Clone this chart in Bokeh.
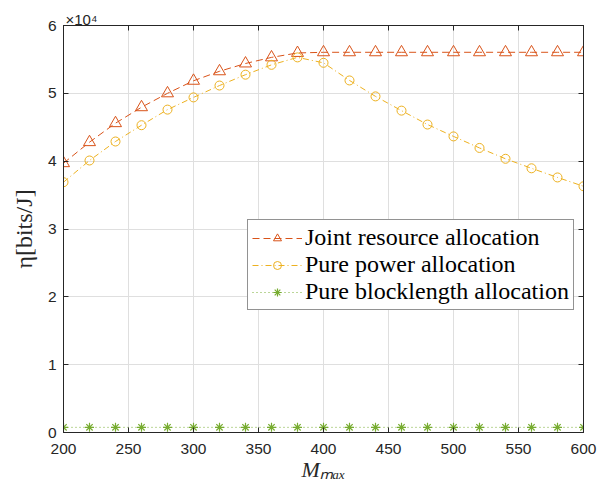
from bokeh.plotting import figure
from bokeh.models import (Legend, LegendItem, LinearAxis, FixedTicker, Range1d, Title,
                          CustomLabelingPolicy)
from bokeh.embed import file_html
from bokeh.resources import INLINE

# ---- data ----
m_max = [200, 220, 240, 260, 280, 300, 320, 340, 360, 380, 400,
         420, 440, 460, 480, 500, 520, 540, 560, 580, 600]
joint = [39700, 42800, 45600, 47950, 50000, 51850, 53250, 54400, 55300, 55950, 56050,
         56050, 56050, 56050, 56050, 56050, 56050, 56050, 56050, 56050, 56050]
power = [36900, 40100, 42900, 45300, 47600, 49400, 51150, 52750, 54200, 55300, 54500,
         51900, 49550, 47450, 45400, 43650, 41950, 40350, 38950, 37600, 36300]
block = [760, 760, 760, 760, 760, 760, 760, 760, 760, 760, 760,
         760, 760, 760, 760, 760, 760, 760, 760, 760, 760]
x_ticks = [200, 250, 300, 350, 400, 450, 500, 550, 600]
y_ticks = [0, 10000, 20000, 30000, 40000, 50000, 60000]
y_tick_labels = ["0", "1", "2", "3", "4", "5", "6"]
series_names = ["Joint resource allocation", "Pure power allocation",
                "Pure blocklength allocation"]
x_label = "Mₘₐₓ"
y_label = "η[bits/J]"
y_scale_label = "×10⁴"

C_JOINT = "#D95319"
C_POWER = "#EDB120"
C_BLOCK = "#77AC30"
AX = "#262626"

W, H = 607, 489
L, R, T, B = 63, 583, 25, 432

p = figure(width=W, height=H, x_range=Range1d(200, 600), y_range=Range1d(0, 60000),
           output_backend="svg", toolbar_location=None,
           min_border_left=L, min_border_right=W - R, min_border_top=T,
           min_border_bottom=H - B)
p.background_fill_color = "white"
p.border_fill_color = "white"
p.outline_line_color = AX
p.outline_line_width = 1

hide_all = CustomLabelingPolicy(
    code="const a = Array.from(indices); for (const i of a) { indices.unset(i) }; return indices")
p.add_layout(LinearAxis(major_label_policy=hide_all), "right")
p.add_layout(LinearAxis(major_label_policy=hide_all), "above")

for ax in p.xaxis:
    ax.ticker = FixedTicker(ticks=x_ticks)
for ax in p.yaxis:
    ax.ticker = FixedTicker(ticks=y_ticks)
    ax.major_label_overrides = {t: s for t, s in zip(y_ticks, y_tick_labels)}

for ax in p.axis:
    ax.axis_line_color = AX
    ax.axis_line_width = 1
    ax.major_tick_in = 5
    ax.major_tick_out = 0
    ax.minor_tick_in = 0
    ax.minor_tick_out = 0
    ax.major_tick_line_color = AX
    ax.major_label_text_font = "Liberation Sans"
    ax.major_label_text_font_size = "15.5px"
    ax.major_label_text_color = AX

for ax in (p.right[0], p.above[0]):
    ax.major_label_text_font_size = "1px"
    ax.major_label_standoff = 0

xa = p.below[0]
xa.major_label_standoff = 11
xa.axis_label = x_label
xa.axis_label_text_font = "Liberation Serif"
xa.axis_label_text_font_style = "italic"
xa.axis_label_text_font_size = "22px"
xa.axis_label_text_color = AX
xa.axis_label_standoff = 0

ya = p.left[0]
ya.major_label_standoff = 7
ya.axis_label = y_label
ya.axis_label_text_font = "Liberation Serif"
ya.axis_label_text_font_style = "normal"
ya.axis_label_text_font_size = "24px"
ya.axis_label_text_color = AX
ya.axis_label_standoff = 8

p.xgrid.ticker = FixedTicker(ticks=x_ticks)
p.ygrid.ticker = FixedTicker(ticks=y_ticks)
p.grid.grid_line_color = "#DFDFDF"
p.grid.grid_line_width = 1

scale_title = Title(text=y_scale_label, align="left", offset=2, standoff=-12,
                    text_font="Liberation Sans", text_font_size="15px",
                    text_font_style="normal", text_color=AX)
p.add_layout(scale_title, "above")

# ---- series ----
l1 = p.line(m_max, joint, line_color=C_JOINT, line_width=1, line_dash="7 4")
s1 = p.scatter(m_max, joint, marker="triangle", size=12, line_color=C_JOINT,
               fill_color=None, line_width=1)
l2 = p.line(m_max, power, line_color=C_POWER, line_width=1, line_dash="6 3 1 3")
s2 = p.scatter(m_max, power, marker="circle", size=9, line_color=C_POWER,
               fill_color=None, line_width=1)
l3 = p.line(m_max, block, line_color=C_BLOCK, line_width=1, line_dash="1 3")
s3 = p.scatter(m_max, block, marker="asterisk", size=9, line_color=C_BLOCK,
               line_width=1.2)

legend = Legend(items=[LegendItem(label=series_names[0], renderers=[l1, s1]),
                       LegendItem(label=series_names[1], renderers=[l2, s2]),
                       LegendItem(label=series_names[2], renderers=[l3, s3])],
                location=(184, 122))
legend.label_text_font = "Liberation Serif"
legend.label_text_font_size = "24px"
legend.label_text_color = "black"
legend.glyph_width = 50
legend.glyph_height = 20
legend.label_standoff = 3
legend.padding = 4
legend.spacing = 0
legend.label_height = 27
legend.margin = 0
legend.border_line_color = AX
legend.border_line_width = 1
legend.background_fill_color = "white"
legend.background_fill_alpha = 1
p.add_layout(legend, "center")

open("out.html", "w").write(file_html(p, INLINE))
